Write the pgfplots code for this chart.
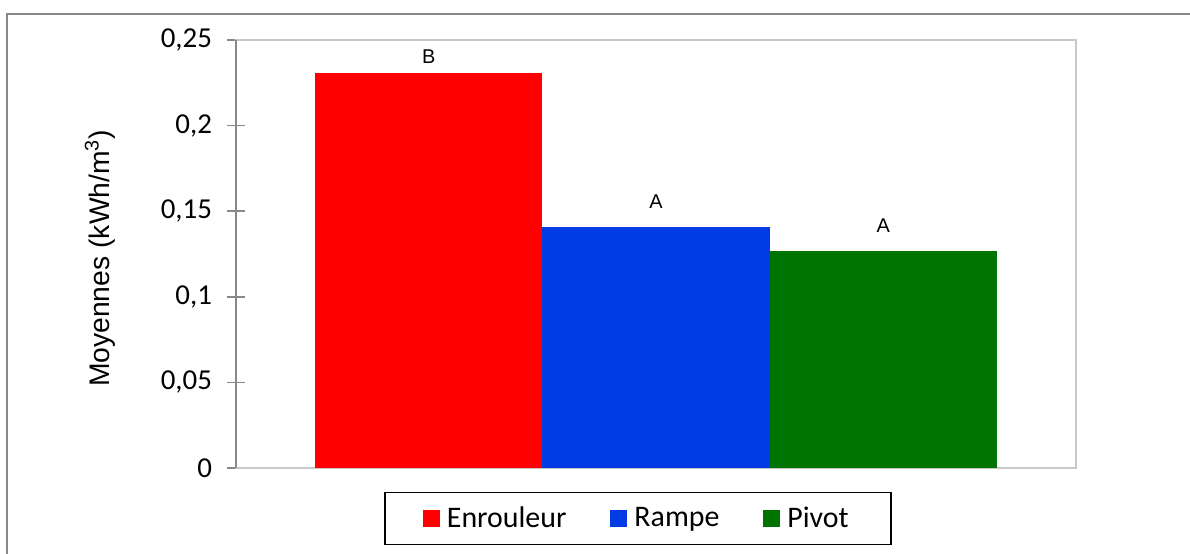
\documentclass[border=0pt]{standalone}
\usepackage{pgfplots}
\pgfplotsset{compat=1.18}
\usepackage{fontspec}
\setmainfont{Carlito}
\newfontfamily\arial{Liberation Sans}
\definecolor{barred}{HTML}{FF0000}
\definecolor{barblue}{HTML}{003BE4}
\definecolor{bargreen}{HTML}{007400}
\definecolor{framegray}{HTML}{C8C8C8}
\definecolor{axisgray}{HTML}{888888}

\begin{document}
\begin{tikzpicture}
\useasboundingbox (0,0) rectangle (595bp,277bp);
% outer chart border (left and top only visible)
\draw[axisgray, line width=0.9bp] (3.5bp,-1bp) -- (3.5bp,269.8bp) -- (600bp,269.8bp);
\begin{axis}[
  at={(118bp,43bp)}, anchor=south west,
  scale only axis, width=420bp, height=214bp,
  ybar, bar width=1, bar shift=0,
  xmin=-0.848, xmax=2.848,
  ymin=0, ymax=0.25,
  ytick={0,0.05,0.1,0.15,0.2,0.25},
  xtick=\empty, ytick pos=left,
  axis line style={framegray, line width=1bp},
  ytick style={axisgray, line width=0.8bp},
  major tick length=9bp, tick align=center,
  yticklabel style={font=\fontsize{14.5}{16}\selectfont, xshift=-4bp},
  /pgf/number format/assume math mode=true,
  /pgf/number format/use comma, /pgf/number format/fixed,
  ylabel={\arial Moyennes (kWh/m\textsuperscript{3})},
  ylabel style={font=\fontsize{14.2}{16}\selectfont, at={(axis description cs:-0.162,0.49)}, anchor=center},
  point meta=explicit symbolic,
  nodes near coords,
  every node near coord/.append style={font=\arial\fontsize{10}{12}\selectfont, anchor=center, text=black},
  legend style={at={(0.476,-0.118)}, anchor=center, draw=black, line width=0.8bp,
    font=\fontsize{15}{17}\selectfont, inner xsep=19bp, inner ysep=5bp, xshift=1bp},
  legend columns=3,
  legend cell align=left,
  legend image code/.code={\fill[#1] (3bp,-4.25bp) rectangle (11.5bp,4.25bp);},
  /tikz/every odd column/.append style={column sep=1.5bp},
  /tikz/every even column/.append style={column sep=20bp},
  clip=false,
]
\addplot[fill=barred, draw=none, nodes near coords style={yshift=8bp}] coordinates {(0,0.2309) [B]};
\addplot[fill=barblue, draw=none, nodes near coords style={yshift=13bp}] coordinates {(1,0.1405) [A]};
\addplot[fill=bargreen, draw=none, nodes near coords style={yshift=13bp}] coordinates {(2,0.1265) [A]};
\draw[axisgray, line width=1bp] (rel axis cs:0,0) -- (rel axis cs:0,1);
\legend{Enrouleur, Rampe, Pivot}
\end{axis}
\end{tikzpicture}
\end{document}
